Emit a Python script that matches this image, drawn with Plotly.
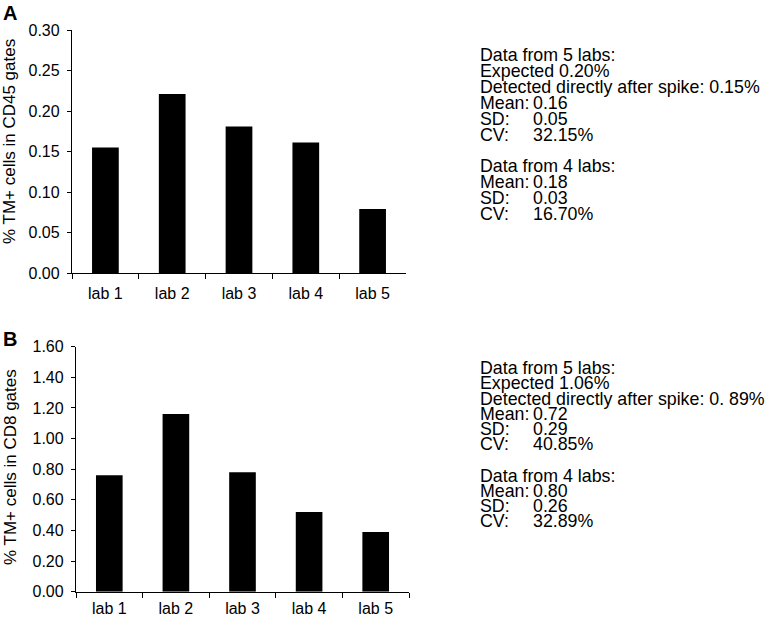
import plotly.graph_objects as go

W, H = 767, 617

labs = ["lab 1", "lab 2", "lab 3", "lab 4", "lab 5"]
cd45_values = [0.155, 0.221, 0.181, 0.161, 0.079]
cd8_values = [0.76, 1.16, 0.78, 0.52, 0.39]

cd45_ticks = [0.00, 0.05, 0.10, 0.15, 0.20, 0.25, 0.30]
cd8_ticks = [0.00, 0.20, 0.40, 0.60, 0.80, 1.00, 1.20, 1.40, 1.60]

panel_labels = ["A", "B"]
y_titles = ["% TM+ cells in CD45 gates", "% TM+ cells in CD8 gates"]

stat_names = ["Mean:", "SD:", "CV:"]

a_header = ["Data from 5 labs:", "Expected 0.20%", "Detected directly after spike: 0.15%"]
a_stats5_vals = ["0.16", "0.05", "32.15%"]
a_header4 = ["Data from 4 labs:"]
a_stats4_vals = ["0.18", "0.03", "16.70%"]

b_header = ["Data from 5 labs:", "Expected 1.06%", "Detected directly after spike: 0. 89%"]
b_stats5_vals = ["0.72", "0.29", "40.85%"]
b_header4 = ["Data from 4 labs:"]
b_stats4_vals = ["0.80", "0.26", "32.89%"]

FONT = "Liberation Sans, Arial, Helvetica, sans-serif"
TXT = 17.8

def px_x(x):
    return x / W

def px_y(y):
    return 1 - y / H

fig = go.Figure()
fig.add_trace(go.Bar(x=labs, y=cd45_values, marker=dict(color="black", line=dict(width=0)),
                     width=0.4, xaxis="x", yaxis="y", showlegend=False))
fig.add_trace(go.Bar(x=labs, y=cd8_values, marker=dict(color="black", line=dict(width=0)),
                     width=0.4, xaxis="x2", yaxis="y2", showlegend=False))

axis_common = dict(showline=True, linecolor="black", linewidth=1.3, ticks="outside",
                   tickcolor="black", tickwidth=1.3, showgrid=False, zeroline=False,
                   automargin=False,
                   tickfont=dict(family=FONT, size=16, color="black"))

fig.update_layout(
    width=W, height=H,
    margin=dict(l=0, r=0, t=0, b=0, autoexpand=False),
    paper_bgcolor="white", plot_bgcolor="white",
    font=dict(family=FONT, color="black"),
    xaxis=dict(domain=[px_x(72), px_x(406)], anchor="y", type="category",
               range=[-0.5, 4.5], tickson="boundaries", ticklen=5,
               ticklabelstandoff=6, **axis_common),
    yaxis=dict(domain=[px_y(273), px_y(30)], anchor="x", range=[0, 0.30],
               tickvals=cd45_ticks, ticktext=[f"{v:.2f}" for v in cd45_ticks],
               ticklen=4, ticklabelstandoff=4, **axis_common),
    xaxis2=dict(domain=[px_x(76), px_x(409)], anchor="y2", type="category",
                range=[-0.5, 4.5], tickson="boundaries", ticklen=5,
                ticklabelstandoff=2, **axis_common),
    yaxis2=dict(domain=[px_y(591.7), px_y(346.7)], anchor="x2", range=[0, 1.60],
                tickvals=cd8_ticks, ticktext=[f"{v:.2f}" for v in cd8_ticks],
                ticklen=4, ticklabelstandoff=4, **axis_common),
)

ann = []
for lab, yc in zip(panel_labels, [13, 339]):
    ann.append(dict(text=f"<b>{lab}</b>", x=px_x(1), y=px_y(yc), xref="paper", yref="paper",
                    xanchor="left", yanchor="middle", showarrow=False,
                    font=dict(family=FONT, size=20, color="black")))
for t, yc in zip(y_titles, [142, 467]):
    ann.append(dict(text=t, x=px_x(10), y=px_y(yc), xref="paper", yref="paper",
                    xanchor="center", yanchor="middle", textangle=-90, showarrow=False,
                    font=dict(family=FONT, size=17, color="black")))

def text_block(header, vals5, header4, vals4, ys):
    lines = []
    for i, h in enumerate(header):
        lines.append((h, None, ys[i]))
    for j, (n, v) in enumerate(zip(stat_names, vals5)):
        lines.append((n, v, ys[3 + j]))
    lines.append((header4[0], None, ys[6]))
    for j, (n, v) in enumerate(zip(stat_names, vals4)):
        lines.append((n, v, ys[7 + j]))
    out = []
    for name, val, yc in lines:
        out.append(dict(text=name, x=px_x(478), y=px_y(yc), xref="paper", yref="paper",
                        xanchor="left", yanchor="middle", showarrow=False,
                        font=dict(family=FONT, size=TXT, color="black")))
        if val is not None:
            out.append(dict(text=val, x=px_x(531), y=px_y(yc), xref="paper", yref="paper",
                            xanchor="left", yanchor="middle", showarrow=False,
                            font=dict(family=FONT, size=TXT, color="black")))
    return out

ann += text_block(a_header, a_stats5_vals, a_header4, a_stats4_vals,
                  [55, 71, 87, 103, 119, 135, 166, 182, 198, 214])
ann += text_block(b_header, b_stats5_vals, b_header4, b_stats4_vals,
                  [368, 383, 399, 414, 429, 444, 476, 491, 506, 521])

fig.update_layout(annotations=ann)
fig.write_html("out.html", config={"displayModeBar": False},
               post_script="document.body.style.margin='0';")
